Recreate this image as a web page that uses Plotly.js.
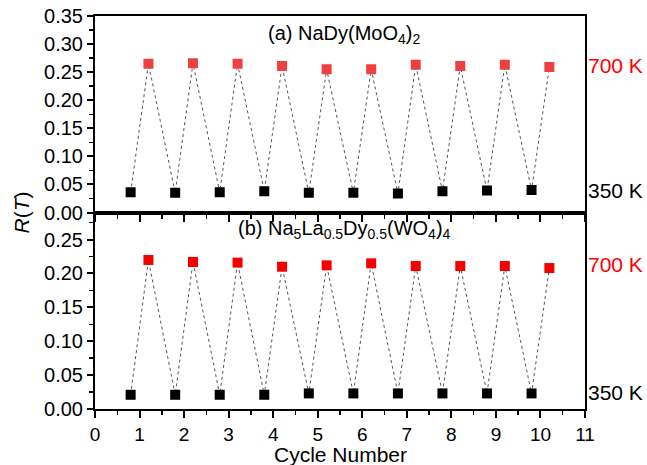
<!DOCTYPE html>
<html>
<head>
<meta charset="utf-8">
<script src="https://cdn.plot.ly/plotly-3.0.1.min.js"></script>
<style>html,body{margin:0;padding:0;background:#fff;}#chart{width:647px;height:465px;}</style>
</head>
<body>
<div id="chart"></div>
<script>
// Cycle positions
const xLow = [0.8, 1.8, 2.8, 3.8, 4.8, 5.8, 6.8, 7.8, 8.8, 9.8];
const xHigh = [1.2, 2.2, 3.2, 4.2, 5.2, 6.2, 7.2, 8.2, 9.2, 10.2];
// (a) NaDy(MoO4)2
const aLow = [0.036, 0.035, 0.036, 0.038, 0.035, 0.035, 0.034, 0.038, 0.039, 0.040];
const aHigh = [0.265, 0.266, 0.265, 0.261, 0.255, 0.255, 0.263, 0.261, 0.263, 0.259];
// (b) Na5La0.5Dy0.5(WO4)4
const bLow = [0.021, 0.021, 0.021, 0.021, 0.023, 0.023, 0.023, 0.023, 0.023, 0.023];
const bHigh = [0.220, 0.217, 0.216, 0.210, 0.212, 0.215, 0.211, 0.211, 0.211, 0.208];
const xTicks = [0, 1, 2, 3, 4, 5, 6, 7, 8, 9, 10, 11];
const labelHigh = "700 K";
const labelLow = "350 K";

function zig(xl, yl, xh, yh) {
  const xs = [], ys = [];
  for (let i = 0; i < xl.length; i++) { xs.push(xl[i], xh[i]); ys.push(yl[i], yh[i]); }
  return {x: xs, y: ys};
}
const za = zig(xLow, aLow, xHigh, aHigh);
const zb = zig(xLow, bLow, xHigh, bHigh);
const FONT = "Arial, 'Liberation Sans', sans-serif";

const traces = [
  {x: za.x, y: za.y, xaxis: 'x', yaxis: 'y', mode: 'lines', line: {color: '#555', width: 1, dash: 'dot'}, hoverinfo: 'skip'},
  {x: xLow, y: aLow, xaxis: 'x', yaxis: 'y', mode: 'markers', marker: {symbol: 'square', size: 10, color: '#000'}},
  {x: xHigh, y: aHigh, xaxis: 'x', yaxis: 'y', mode: 'markers', marker: {symbol: 'square', size: 10, color: '#ee4040'}},
  {x: zb.x, y: zb.y, xaxis: 'x2', yaxis: 'y2', mode: 'lines', line: {color: '#555', width: 1, dash: 'dot'}, hoverinfo: 'skip'},
  {x: xLow, y: bLow, xaxis: 'x2', yaxis: 'y2', mode: 'markers', marker: {symbol: 'square', size: 10, color: '#000'}},
  {x: xHigh, y: bHigh, xaxis: 'x2', yaxis: 'y2', mode: 'markers', marker: {symbol: 'square', size: 10, color: '#f50000'}}
];

const xCommon = {
  range: [0, 11], tickvals: xTicks, ticks: 'outside', ticklen: 7, tickwidth: 2, tickcolor: '#000',
  showline: true, linewidth: 2, linecolor: '#000', mirror: true, showgrid: false, zeroline: false,
  minor: {dtick: 0.5, ticks: 'outside', ticklen: 4, tickwidth: 1.5, tickcolor: '#000'},
  tickfont: {family: FONT, size: 19, color: '#000'}
};
const yCommon = {
  ticks: 'outside', ticklen: 6, tickwidth: 2, tickcolor: '#000', dtick: 0.05, tickformat: '.2f',
  showline: true, linewidth: 2, linecolor: '#000', mirror: true, showgrid: false, zeroline: false,
  minor: {dtick: 0.025, ticks: 'outside', ticklen: 4, tickwidth: 1.5, tickcolor: '#000'},
  tickfont: {family: FONT, size: 20, color: '#000'}
};

const layout = {
  width: 647, height: 465,
  margin: {l: 95, r: 62, t: 16, b: 56},
  paper_bgcolor: '#fff', plot_bgcolor: '#fff',
  showlegend: false,
  font: {family: FONT, color: '#000'},
  xaxis: Object.assign({}, xCommon, {anchor: 'y', showticklabels: false}),
  yaxis: Object.assign({}, yCommon, {domain: [0.5, 1], range: [0, 0.35], anchor: 'x'}),
  xaxis2: Object.assign({}, xCommon, {anchor: 'y2', showticklabels: true}),
  yaxis2: Object.assign({}, yCommon, {domain: [0, 0.5], range: [0, 0.29], anchor: 'x2'}),
  annotations: [
    {xref: 'paper', yref: 'paper', x: 0.5, y: 0, yshift: -32, text: 'Cycle Number', showarrow: false,
     font: {family: FONT, size: 21, color: '#000'}, xanchor: 'center', yanchor: 'top'},
    {xref: 'paper', yref: 'paper', x: 0, y: 0.5, xshift: -74, text: '<i>R</i>(<i>T</i>)', textangle: -90,
     showarrow: false, font: {family: FONT, size: 21, color: '#000'}, xanchor: 'center', yanchor: 'middle'},
    {xref: 'x', yref: 'y', x: 5.6, y: 0.343, text: '(a) NaDy(MoO<sub>4</sub>)<sub>2</sub>', showarrow: false,
     font: {family: FONT, size: 20, color: '#000'}, yanchor: 'top'},
    {xref: 'x2', yref: 'y2', x: 5.6, y: 0.287, text: '(b) Na<sub>5</sub>La<sub>0.5</sub>Dy<sub>0.5</sub>(WO<sub>4</sub>)<sub>4</sub>', showarrow: false,
     font: {family: FONT, size: 20, color: '#000'}, yanchor: 'top'},
    {xref: 'paper', yref: 'y', x: 1, y: 0.262, xanchor: 'left', xshift: 1, text: labelHigh, showarrow: false,
     font: {family: FONT, size: 21, color: '#ff0000'}},
    {xref: 'paper', yref: 'y', x: 1, y: 0.04, xanchor: 'left', xshift: 1, text: labelLow, showarrow: false,
     font: {family: FONT, size: 21, color: '#000'}},
    {xref: 'paper', yref: 'y2', x: 1, y: 0.213, xanchor: 'left', xshift: 1, text: labelHigh, showarrow: false,
     font: {family: FONT, size: 21, color: '#ff0000'}},
    {xref: 'paper', yref: 'y2', x: 1, y: 0.024, xanchor: 'left', xshift: 1, text: labelLow, showarrow: false,
     font: {family: FONT, size: 21, color: '#000'}}
  ]
};

Plotly.newPlot('chart', traces, layout, {displayModeBar: false, staticPlot: true});
</script>
</body>
</html>
